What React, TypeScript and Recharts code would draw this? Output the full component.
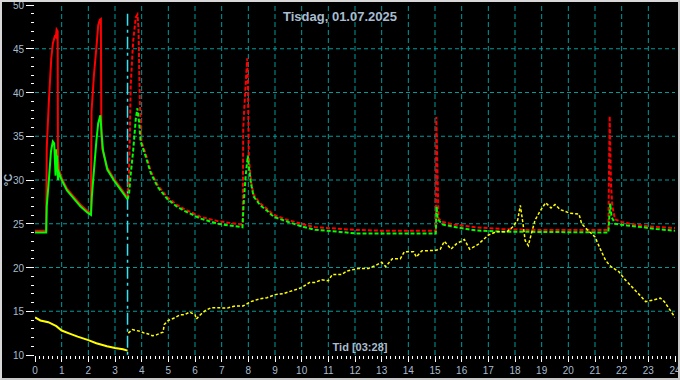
import { LineChart, Line, XAxis, YAxis, ReferenceLine } from 'recharts'

// time in hours, temperature in °C
const redBefore: [number, number][] = [
  [0, 24.2], [0.42, 24.2], [0.44, 33.6], [0.52, 39.0], [0.61, 43.9], [0.67, 45.6],
  [0.74, 46.4], [0.78, 46.3], [0.81, 47.2], [0.85, 47.0], [0.86, 32.5], [0.9, 31.2],
  [1.0, 30.2], [1.2, 29.0], [1.45, 28.1], [1.7, 27.2], [1.96, 26.5], [2.1, 26.2],
  [2.12, 37.8], [2.21, 42.0], [2.31, 45.4], [2.37, 47.7], [2.43, 48.3], [2.47, 48.4],
  [2.49, 35.2], [2.52, 33.6], [2.71, 31.4], [2.95, 30.2], [3.21, 29.1], [3.47, 28.0],
]

const redAfter: [number, number][] = [
  [3.47, 28.0], [3.53, 30.7], [3.59, 40.9], [3.68, 45.8], [3.78, 48.6], [3.84, 48.9],
  [3.88, 47.5], [3.93, 39.0], [3.99, 34.4], [4.15, 33.0], [4.34, 31.0], [4.6, 29.4],
  [4.97, 28.0], [5.3, 27.2], [5.58, 26.7], [6.2, 25.8], [6.85, 25.3], [7.3, 25.1],
  [7.77, 24.9], [7.79, 25.0], [7.81, 36.0], [7.9, 41.0], [7.96, 43.9], [7.99, 40.0],
  [8.02, 32.5], [8.1, 29.8], [8.2, 28.3], [8.45, 27.3], [8.7, 26.7], [8.95, 26.0],
  [9.5, 25.4], [10.0, 25.0], [10.5, 24.6], [11.0, 24.5], [12.0, 24.3], [13.0, 24.2],
  [15.03, 24.2], [15.05, 37.2], [15.1, 30.0], [15.13, 25.6], [15.3, 25.2], [15.7, 24.9],
  [16.5, 24.6], [17.5, 24.4], [18.5, 24.3], [21.5, 24.3], [21.55, 37.3], [21.6, 29.5],
  [21.65, 27.0], [21.75, 25.5], [22.0, 25.2], [22.3, 25.0], [23.0, 24.7], [24.0, 24.5],
]

const greenBefore: [number, number][] = [
  [0, 24.0], [0.42, 24.0], [0.44, 27.0], [0.52, 30.0], [0.6, 33.3], [0.67, 34.4],
  [0.72, 34.2], [0.75, 32.0], [0.77, 30.5], [0.79, 33.5], [0.81, 31.0], [0.83, 32.8],
  [0.86, 30.0], [0.9, 30.8], [1.0, 30.0], [1.2, 28.8], [1.45, 27.9], [1.7, 27.0],
  [1.96, 26.3], [2.1, 26.0], [2.13, 28.0], [2.2, 30.7], [2.3, 34.4], [2.37, 36.5],
  [2.45, 37.4], [2.5, 35.2], [2.55, 33.4], [2.71, 31.2], [2.95, 30.0], [3.21, 28.9],
  [3.47, 27.8],
]

const greenAfter: [number, number][] = [
  [3.47, 27.8], [3.53, 28.5], [3.59, 30.7], [3.68, 33.3], [3.78, 37.0], [3.84, 38.2],
  [3.9, 36.7], [3.96, 34.4], [4.15, 32.7], [4.34, 30.8], [4.6, 29.2], [4.97, 27.8],
  [5.3, 27.0], [5.58, 26.5], [6.2, 25.6], [6.85, 25.0], [7.3, 24.8], [7.78, 24.6],
  [7.82, 27.0], [7.9, 30.5], [7.98, 32.8], [8.02, 31.5], [8.1, 29.6], [8.2, 28.1],
  [8.45, 27.1], [8.7, 26.5], [8.95, 25.8], [9.5, 25.2], [10.0, 24.7], [10.5, 24.3],
  [11.0, 24.2], [12.0, 23.9], [15.03, 23.9], [15.06, 27.0], [15.1, 25.5], [15.3, 24.9],
  [15.8, 24.6], [16.5, 24.25], [17.5, 24.1], [21.5, 24.0], [21.57, 27.3], [21.62, 25.8],
  [21.75, 25.0], [22.2, 24.8], [22.8, 24.6], [23.3, 24.4], [24.0, 24.2],
]

const yellowBefore: [number, number][] = [
  [0, 14.3], [0.2, 13.95], [0.5, 13.75], [0.8, 13.3], [1.0, 12.8], [1.3, 12.45],
  [1.6, 12.1], [2.0, 11.7], [2.3, 11.35], [2.7, 11.0], [3.0, 10.8], [3.3, 10.65],
  [3.47, 10.5],
]

const yellowAfter: [number, number][] = [
  [3.5, 12.5], [3.65, 12.9], [3.8, 12.8], [3.95, 12.7], [4.1, 12.5], [4.25, 12.4],
  [4.4, 12.2], [4.55, 12.3], [4.7, 12.5], [4.8, 12.6], [4.85, 13.5], [5.0, 13.95],
  [5.2, 14.2], [5.45, 14.6], [5.6, 14.6], [5.8, 14.9], [6.0, 14.6], [6.05, 14.1],
  [6.2, 14.6], [6.4, 15.1], [6.6, 15.4], [6.9, 15.4], [7.2, 15.35], [7.5, 15.6],
  [7.8, 15.6], [8.1, 16.1], [8.4, 16.4], [8.7, 16.55], [9.0, 16.9], [9.3, 17.0],
  [9.6, 17.3], [10.0, 17.7], [10.3, 18.3], [10.5, 18.3], [10.75, 18.6], [11.0, 18.5],
  [11.15, 19.2], [11.5, 19.2], [11.7, 19.6], [12.15, 19.9], [12.5, 19.9], [12.75, 20.2],
  [13.0, 20.6], [13.15, 20.1], [13.4, 21.0], [13.7, 21.0], [13.85, 21.8], [14.2, 21.8],
  [14.3, 21.2], [14.5, 21.9], [15.0, 21.95], [15.2, 22.1], [15.35, 23.0], [15.6, 22.1],
  [15.8, 22.7], [16.1, 23.2], [16.3, 22.1], [16.6, 22.6], [17.0, 23.7], [17.3, 24.1],
  [17.7, 24.1], [17.9, 24.6], [18.1, 25.4], [18.2, 27.1], [18.3, 25.0], [18.38, 23.1],
  [18.5, 22.5], [18.6, 23.7], [18.75, 25.4], [18.95, 26.5], [19.15, 27.4], [19.35, 26.8],
  [19.5, 27.2], [19.7, 26.6], [19.9, 26.4], [20.05, 26.2], [20.4, 26.1], [20.5, 25.0],
  [20.75, 24.2], [21.0, 23.5], [21.2, 22.1], [21.4, 20.8], [21.6, 20.1], [21.9, 19.5],
  [22.1, 18.7], [22.35, 17.9], [22.6, 17.1], [22.9, 16.1], [23.2, 16.3], [23.45, 16.5],
  [23.6, 16.1], [23.8, 15.2], [24.0, 14.3],
]

const hourGrid = [1, 2, 3, 4, 5, 6, 7, 8, 9, 10, 11, 12, 13, 14, 15, 16, 17, 18, 19, 20, 21, 22, 23]
const tempGrid = [15, 20, 25, 30, 35, 40, 45]
const cursorHour = 3.47
const title = 'Tisdag, 01.07.2025'
const cursorLabel = 'Tid [03:28]'

// minor ticks: every 10 minutes on x, every degree on y
const xTicks = Array.from({ length: 24 * 6 + 1 }, (_, i) => i / 6)
const yTicks = Array.from({ length: 41 }, (_, i) => 10 + i)

const TEXT = '#a9bccf'
const GRID = '#009a9a'
const FONT = '"Liberation Sans", Arial, sans-serif'

const toRows = (pts: [number, number][]) => pts.map(([t, v]) => ({ t, v }))

const XTick = (props: any) => {
  const { x, y, payload } = props
  const major = Math.abs(payload.value * 6 - Math.round(payload.value) * 6) < 0.01
  return (
    <g>
      <line x1={x} x2={x} y1={y + 1} y2={y + (major ? 7 : 4)} stroke="#fff" shapeRendering="crispEdges" />
      {major && (
        <text x={x} y={y + 19} textAnchor="middle" fill={TEXT} fontSize={10} fontFamily={FONT}>
          {Math.round(payload.value)}
        </text>
      )}
    </g>
  )
}

const YTick = (props: any) => {
  const { x, y, payload } = props
  const major = payload.value % 5 === 0
  return (
    <g>
      <line x1={x - (major ? 9 : 4)} x2={x - 1} y1={y} y2={y} stroke="#fff" shapeRendering="crispEdges" />
      {major && (
        <text x={x - 11} y={y + 4} textAnchor="end" fill={TEXT} fontSize={10} fontFamily={FONT}>
          {payload.value}
        </text>
      )}
    </g>
  )
}

export default function App() {
  return (
    <div style={{ position: 'absolute', left: 0, top: 0, width: 680, height: 380, background: '#000', fontFamily: FONT }}>
      <LineChart width={680} height={380} margin={{ top: 5, right: 5, left: 0, bottom: 0 }}>
        <XAxis
          type="number"
          dataKey="t"
          domain={[0, 24]}
          ticks={xTicks}
          interval={0}
          allowDataOverflow
          axisLine={false}
          tickLine={false}
          tickSize={0}
          tickMargin={0}
          height={25}
          tick={<XTick />}
        />
        <YAxis
          type="number"
          dataKey="v"
          domain={[10, 50]}
          ticks={yTicks}
          interval={0}
          allowDataOverflow
          axisLine={false}
          tickLine={false}
          tickSize={0}
          tickMargin={0}
          width={35}
          tick={<YTick />}
          label={{
            content: () => (
              <text x={12} y={180} transform="rotate(-90 12 180)" textAnchor="middle" fill={TEXT} fontSize={11} fontWeight="bold" fontFamily={FONT}>
                °C
              </text>
            ),
          }}
        />
        {hourGrid.map((h) => (
          <ReferenceLine key={'h' + h} x={h} stroke={GRID} strokeDasharray="5 3" />
        ))}
        {tempGrid.map((v) => (
          <ReferenceLine key={'v' + v} y={v} stroke={GRID} strokeDasharray="4 3" />
        ))}
        <ReferenceLine
          segment={[{ x: cursorHour, y: 49 }, { x: cursorHour, y: 10 }]}
          stroke="#30e4f2"
          strokeWidth={1.5}
          strokeDasharray="12 4 3 4"
        />
        <Line data={toRows(redBefore)} dataKey="v" type="linear" stroke="#ff0000" strokeWidth={2} dot={false} isAnimationActive={false} />
        <Line data={toRows(greenBefore)} dataKey="v" type="linear" stroke="#00ff00" strokeWidth={2} dot={false} isAnimationActive={false} />
        <Line data={toRows(redAfter)} dataKey="v" type="linear" stroke="#ff0000" strokeWidth={2} strokeDasharray="4 2" dot={false} isAnimationActive={false} />
        <Line data={toRows(greenAfter)} dataKey="v" type="linear" stroke="#00ff00" strokeWidth={2} strokeDasharray="4 2" dot={false} isAnimationActive={false} />
        <Line data={toRows(yellowBefore)} dataKey="v" type="linear" stroke="#ffff00" strokeWidth={2} dot={false} isAnimationActive={false} />
        <Line data={toRows(yellowAfter)} dataKey="v" type="linear" stroke="#ffff00" strokeWidth={1.5} strokeDasharray="3 2" dot={false} isAnimationActive={false} />
      </LineChart>
      <div style={{ position: 'absolute', left: 0, top: 9, width: 680, textAlign: 'center', color: TEXT, fontSize: 13, fontWeight: 'bold' }}>
        {title}
      </div>
      <div style={{ position: 'absolute', left: 310, top: 341, width: 100, textAlign: 'center', color: TEXT, fontSize: 11, fontWeight: 'bold' }}>
        {cursorLabel}
      </div>
      <div
        style={{
          position: 'absolute',
          left: 0,
          top: 0,
          width: 680,
          height: 380,
          boxSizing: 'border-box',
          border: '2px solid',
          borderColor: '#d8d8d8 #c8c8c8 #c8c8c8 #d8d8d8',
          pointerEvents: 'none',
        }}
      />
    </div>
  )
}
